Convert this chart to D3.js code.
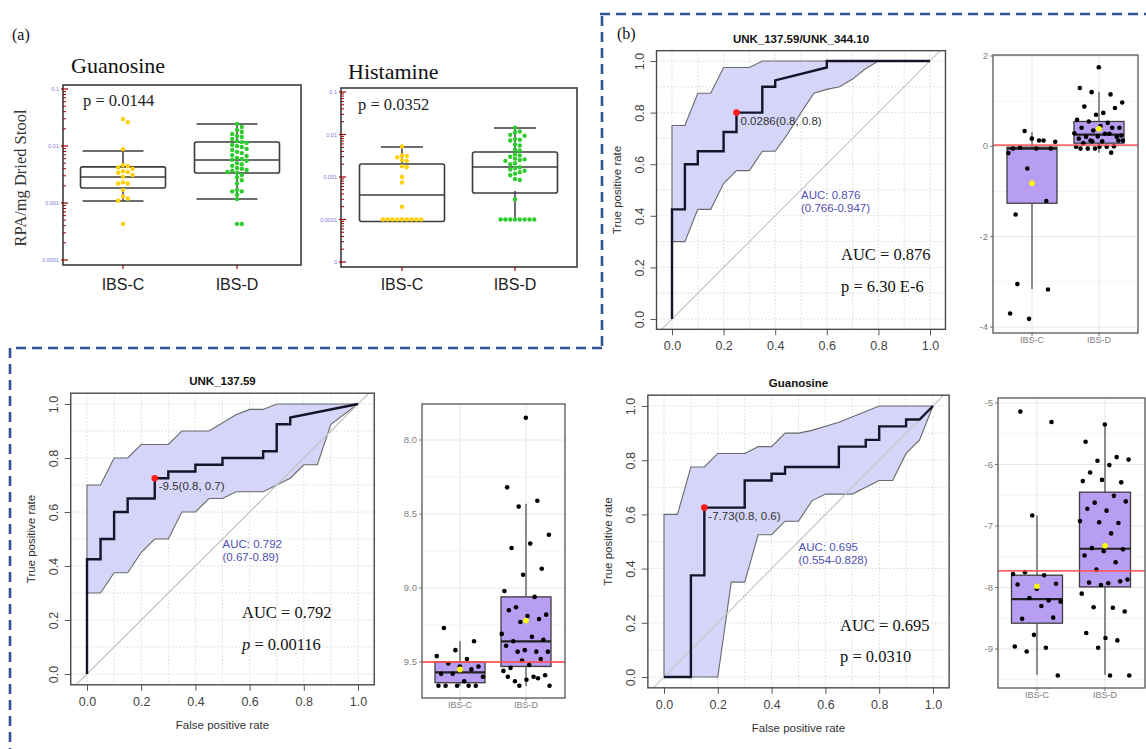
<!DOCTYPE html>
<html>
<head>
<meta charset="utf-8">
<script src="https://cdn.jsdelivr.net/npm/d3@7"></script>
<style>
  body { margin: 0; background: #fff; }
</style>
</head>
<body>
<div id="chart"></div>
<script>
// ---------------- data ----------------
var groups = ["IBS-C", "IBS-D"];

// panel (a): RPA/mg dried stool (log axis)
var guanoC = [0.0298, 0.0262, 0.0088, 0.0046, 0.0044, 0.0042, 0.0040, 0.0036, 0.0035, 0.0034, 0.0031, 0.0029,
  0.0023, 0.0022, 0.0022, 0.0017, 0.0013, 0.0012, 0.0011, 0.00043];
var guanoD = [0.0243, 0.0216, 0.0191, 0.0176, 0.0162, 0.0150, 0.0144, 0.0133, 0.0122, 0.0117, 0.0113, 0.0104,
  0.0100, 0.0096, 0.0089, 0.0085, 0.0079, 0.0075, 0.0069, 0.0067, 0.0062, 0.0059, 0.0057, 0.0055, 0.0050,
  0.0048, 0.0045, 0.0041, 0.0040, 0.0038, 0.0037, 0.0035, 0.0034, 0.0031, 0.0028, 0.0025, 0.0022, 0.0017,
  0.0016, 0.0016, 0.0014, 0.00117, 0.00043, 0.00043];
// [low whisker, q1, median, q3, high whisker]
var guanoBoxC = [0.00108, 0.00183, 0.00286, 0.0043, 0.00817];
var guanoBoxD = [0.00117, 0.00336, 0.00568, 0.01175, 0.0243];

var histC = [0.0052, 0.0032, 0.0031, 0.0029, 0.0025, 0.0024, 0.0018, 0.0017, 0.0010, 0.00074, 0.00020,
  0.0001, 0.0001, 0.0001, 0.0001, 0.0001, 0.0001, 0.0001, 0.0001, 0.0001];
var histD = [0.0145, 0.0118, 0.0112, 0.0098, 0.0094, 0.0078, 0.0075, 0.0072, 0.0058, 0.0055, 0.0044, 0.0042,
  0.0034, 0.0032, 0.0030, 0.0027, 0.0026, 0.0025, 0.0024, 0.0021, 0.0020, 0.0017, 0.0016, 0.0015, 0.0014,
  0.0013, 0.0012, 0.0011, 0.00090, 0.00085, 0.0003,
  0.0001, 0.0001, 0.0001, 0.0001, 0.0001, 0.0001, 0.0001, 0.0001];
var histBoxC = [0.0001, 0.0001, 0.000377, 0.00202, 0.00508];
var histBoxD = [0.0001, 0.000469, 0.00172, 0.00387, 0.01422];

var guanoTicks = [0.0001, 0.001, 0.01, 0.1];
var guanoTickLabels = ["0.0001", "0.001", "0.01", "0.1"];
var histTicks = [0.00001, 0.0001, 0.001, 0.01, 0.1];
var histTickLabels = ["0", "0.0001", "0.001", "0.01", "0.1"];

// panel (b): ROC curves, [false positive rate, true positive rate]
var rocRatioCurve = [[0, 0], [0, 0.425], [0.05, 0.425], [0.05, 0.6], [0.1, 0.6], [0.1, 0.65], [0.2, 0.65],
  [0.2, 0.725], [0.25, 0.725], [0.25, 0.8], [0.35, 0.8], [0.35, 0.9], [0.4, 0.9], [0.4, 0.925], [0.6, 0.975],
  [0.6, 1], [1, 1]];
var rocRatioUpper = [[0, 0.75], [0.05, 0.75], [0.1, 0.875], [0.15, 0.875], [0.2, 0.975], [0.3, 0.975],
  [0.35, 1], [1, 1]];
var rocRatioLower = [[0, 0.3], [0.05, 0.3], [0.1, 0.425], [0.15, 0.425], [0.2, 0.525], [0.25, 0.575],
  [0.3, 0.575], [0.35, 0.65], [0.4, 0.65], [0.45, 0.72], [0.5, 0.8], [0.55, 0.875], [0.6, 0.89], [0.65, 0.9],
  [0.7, 0.93], [0.75, 0.97], [0.8, 1], [1, 1]];
var rocRatioBest = [0.25, 0.8];

var rocUnkCurve = [[0, 0], [0, 0.425], [0.05, 0.425], [0.05, 0.5], [0.1, 0.5], [0.1, 0.6], [0.15, 0.6],
  [0.15, 0.65], [0.25, 0.65], [0.25, 0.725], [0.3, 0.725], [0.3, 0.75], [0.4, 0.75], [0.4, 0.775], [0.5, 0.775],
  [0.5, 0.8], [0.65, 0.8], [0.65, 0.825], [0.7, 0.825], [0.7, 0.925], [0.75, 0.925], [0.75, 0.95], [1, 1]];
var rocUnkUpper = [[0, 0.7], [0.05, 0.7], [0.1, 0.8], [0.15, 0.8], [0.2, 0.85], [0.3, 0.85], [0.35, 0.9],
  [0.45, 0.9], [0.55, 0.96], [0.6, 0.98], [0.65, 0.98], [0.7, 1], [1, 1]];
var rocUnkLower = [[0, 0.3], [0.05, 0.3], [0.1, 0.375], [0.15, 0.375], [0.2, 0.45], [0.25, 0.5], [0.3, 0.5],
  [0.35, 0.6], [0.4, 0.6], [0.45, 0.65], [0.5, 0.65], [0.55, 0.675], [0.65, 0.675], [0.75, 0.725], [0.8, 0.775],
  [0.85, 0.775], [0.9, 0.925], [1, 1]];
var rocUnkBest = [0.25, 0.725];

var rocGuaCurve = [[0, 0], [0.1, 0], [0.1, 0.375], [0.15, 0.375], [0.15, 0.625], [0.3, 0.625], [0.3, 0.725],
  [0.4, 0.725], [0.4, 0.75], [0.45, 0.75], [0.45, 0.775], [0.65, 0.775], [0.65, 0.85], [0.75, 0.85],
  [0.75, 0.875], [0.8, 0.875], [0.8, 0.925], [0.9, 0.925], [0.9, 0.95], [0.95, 0.95], [1, 1]];
var rocGuaUpper = [[0, 0.6], [0.05, 0.6], [0.1, 0.775], [0.15, 0.775], [0.2, 0.825], [0.3, 0.825], [0.35, 0.85],
  [0.4, 0.85], [0.45, 0.9], [0.5, 0.9], [0.55, 0.91], [0.65, 0.94], [0.8, 1], [1, 1]];
var rocGuaLower = [[0, 0], [0.2, 0], [0.25, 0.35], [0.3, 0.35], [0.35, 0.525], [0.4, 0.525], [0.45, 0.575],
  [0.5, 0.575], [0.55, 0.65], [0.6, 0.675], [0.7, 0.675], [0.75, 0.7], [0.8, 0.725], [0.85, 0.725],
  [0.9, 0.825], [0.95, 0.875], [1, 1]];
var rocGuaBest = [0.15, 0.625];

// panel (b): box plots with jittered points
var ratioC = [-1.51, -1.21, -0.49, -0.15, 0.13, -0.03, -0.05, 0.17, -0.05, 0.13, 0.34, 0.10, -0.05,
  -3.05, -3.17, -3.82, -3.70];
var ratioD = [1.75, 1.29, 1.15, 1.20, 0.97, 0.74, 0.88, 0.85, 0.70, 0.59, 0.52, 0.55, 0.41, 0.45, 0.41, 0.41,
  0.35, 0.29, 0.28, 0.21, 0.21, 0.22, 0.17, 0.28, 0.13, 0.24, 0.11, 0.07, 0.0, -0.05, -0.01, -0.01, -0.05, 0.13,
  -0.01, -0.05, -0.14, 0.11, 0.13];
var ratioBoxC = [-3.16, -1.26, -0.05, -0.02, 0.31];
var ratioBoxD = [-0.14, 0.07, 0.26, 0.55, 1.2];
var ratioMeans = [-0.82, 0.39];
var ratioCut = 0.0286;

var unkC = [9.27, 9.36, 9.42, 9.46, 9.48, 9.51, 9.53, 9.53, 9.58, 9.55, 9.58, 9.6, 9.63, 9.66, 9.66, 9.66,
  9.66, 9.66];
var unkD = [7.85, 8.32, 8.41, 8.45, 8.64, 8.70, 8.73, 8.87, 8.91, 9.02, 9.06, 9.13, 9.18, 9.19, 9.15, 9.21,
  9.23, 9.31, 9.33, 9.36, 9.35, 9.42, 9.39, 9.43, 9.43, 9.43, 9.52, 9.54, 9.48, 9.49, 9.56, 9.6, 9.63, 9.59,
  9.62, 9.6, 9.61, 9.66, 9.66];
var unkBoxC = [9.36, 9.5, 9.57, 9.64, 9.66];
var unkBoxD = [8.43, 9.06, 9.36, 9.53, 9.66];
var unkMeans = [9.55, 9.22];
var unkCut = 9.5;

var guaC = [-5.14, -5.31, -6.83, -7.78, -7.80, -7.75, -7.94, -8.02, -7.95, -8.21, -8.17, -8.23, -8.30, -8.51,
  -8.49, -8.77, -8.96, -8.98, -9.04, -9.43];
var guaD = [-5.35, -5.63, -5.88, -5.94, -5.92, -6.01, -6.13, -6.29, -6.25, -6.27, -6.51, -6.62, -6.60, -6.75,
  -6.72, -6.95, -6.94, -6.92, -7.12, -7.36, -7.38, -7.41, -7.48, -7.59, -7.71, -7.87, -7.93, -7.92, -7.90,
  -7.96, -8.10, -8.33, -8.32, -8.39, -8.82, -8.74, -8.86, -8.98, -9.43, -9.43];
var guaBoxC = [-9.42, -8.58, -8.19, -7.80, -6.83];
var guaBoxD = [-9.42, -7.99, -7.37, -6.45, -5.35];
var guaMeans = [-7.98, -7.32];
var guaCut = -7.73;

// ---------------- setup ----------------
var width = 1146,
    height = 749;
var serif = "'Liberation Serif', 'Times New Roman', serif";
var sans = "'Liberation Sans', Arial, sans-serif";

var svg = d3.select("#chart")
    .append("svg")
    .attr("width", width)
    .attr("height", height);

svg.append("rect").attr("width", width).attr("height", height).attr("fill", "#fff");

// simple beeswarm: push points sideways until they stop overlapping
function swarm(values, y, cx, r) {
    var placed = [];
    values.map(function (v) { return { v: v, y: y(v) }; })
        .sort(function (a, b) { return a.y - b.y; })
        .forEach(function (p) {
            for (var k = 0; k < 60; k++) {
                var off = (k % 2 ? 1 : -1) * Math.ceil(k / 2) * (2 * r + 0.4);
                var ok = placed.every(function (q) {
                    return Math.hypot(q.x - (cx + off), q.y - p.y) >= 2 * r - 0.2;
                });
                if (ok) { p.x = cx + off; break; }
            }
            placed.push(p);
        });
    return placed;
}

// ---------------- panel (a) ----------------
function drawSwarmPanel(cfg) {
    var g = svg.append("g");
    var fr = cfg.frame;
    var y = d3.scaleLog().domain(cfg.yDomain).range(cfg.yRange);
    var x = d3.scalePoint().domain(groups).range(cfg.xRange);

    g.append("rect")
        .attr("x", fr[0]).attr("y", fr[1])
        .attr("width", fr[2] - fr[0]).attr("height", fr[3] - fr[1])
        .attr("fill", "none").attr("stroke", "#3c3c3c").attr("stroke-width", 1.6);

    // log minor ticks on the inside of the axis
    var e0 = Math.round(Math.log10(cfg.yDomain[0])),
        e1 = Math.round(Math.log10(cfg.yDomain[1]));
    var minor = [];
    for (var e = e0; e < e1; e++) {
        for (var m = 2; m < 10; m++) minor.push(m * Math.pow(10, e));
    }
    g.selectAll(".minor").data(minor).enter().append("line")
        .attr("x1", fr[0]).attr("x2", fr[0] + 3)
        .attr("y1", function (d) { return y(d); }).attr("y2", function (d) { return y(d); })
        .attr("stroke", "#a00000").attr("stroke-width", 1);
    g.selectAll(".major").data(cfg.ticks).enter().append("line")
        .attr("x1", fr[0] - 2).attr("x2", fr[0] + 5)
        .attr("y1", function (d) { return y(d); }).attr("y2", function (d) { return y(d); })
        .attr("stroke", "#a00000").attr("stroke-width", 1.2);
    g.selectAll(".tlab").data(cfg.ticks).enter().append("text")
        .attr("x", fr[0] - 4).attr("y", function (d) { return y(d) + 2; })
        .attr("text-anchor", "end").attr("font-family", sans).attr("font-size", 5.5)
        .attr("fill", "#7b7bd9")
        .text(function (d, i) { return cfg.tickLabels[i]; });

    g.selectAll(".ctick").data(groups).enter().append("line")
        .attr("x1", function (d) { return x(d); }).attr("x2", function (d) { return x(d); })
        .attr("y1", fr[3]).attr("y2", fr[3] + 4)
        .attr("stroke", "#a00000").attr("stroke-width", 1.2);
    g.selectAll(".clab").data(groups).enter().append("text")
        .attr("x", function (d) { return x(d); }).attr("y", 290)
        .attr("text-anchor", "middle").attr("font-family", sans).attr("font-size", 16)
        .attr("fill", "#222")
        .text(function (d) { return d; });

    // boxes
    [cfg.boxC, cfg.boxD].forEach(function (b, i) {
        var cx = x(groups[i]);
        var bw = cfg.boxWidth;
        var capL = cx + cfg.capShift - cfg.capWidth / 2;
        var stroke = "#3c3c3c";
        g.append("line").attr("x1", cx).attr("x2", cx).attr("y1", y(b[3])).attr("y2", y(b[4]))
            .attr("stroke", stroke).attr("stroke-width", 1.5);
        g.append("line").attr("x1", cx).attr("x2", cx).attr("y1", y(b[1])).attr("y2", y(b[0]))
            .attr("stroke", stroke).attr("stroke-width", 1.5);
        var caps = cfg.lowCap ? [b[0], b[4]] : [b[4]];
        caps.forEach(function (v) {
            g.append("line").attr("x1", capL).attr("x2", capL + cfg.capWidth)
                .attr("y1", y(v)).attr("y2", y(v))
                .attr("stroke", stroke).attr("stroke-width", 1.5);
        });
        g.append("rect")
            .attr("x", cx - bw / 2).attr("y", y(b[3]))
            .attr("width", bw).attr("height", y(b[1]) - y(b[3]) + cfg.boxPad)
            .attr("rx", 2)
            .attr("fill", "none").attr("stroke", stroke).attr("stroke-width", 1.6);
        g.append("line").attr("x1", cx - bw / 2).attr("x2", cx + bw / 2)
            .attr("y1", y(b[2])).attr("y2", y(b[2]))
            .attr("stroke", stroke).attr("stroke-width", 1.5);
    });

    // swarm points
    [cfg.dataC, cfg.dataD].forEach(function (vals, i) {
        var pts = swarm(vals, y, x(groups[i]), 2.2);
        g.selectAll(".pt" + i).data(pts).enter().append("circle")
            .attr("cx", function (d) { return d.x; })
            .attr("cy", function (d) { return d.y; })
            .attr("r", 2.2)
            .attr("fill", cfg.colors[i]);
    });

    g.append("text").attr("x", cfg.titlePos[0]).attr("y", cfg.titlePos[1])
        .attr("font-family", serif).attr("font-size", 22).attr("fill", "#111")
        .text(cfg.title);
    g.append("text").attr("x", cfg.pPos[0]).attr("y", cfg.pPos[1])
        .attr("font-family", serif).attr("font-size", 16.5).attr("fill", "#222")
        .text(cfg.pText);
}

drawSwarmPanel({
    frame: [63, 85, 301, 265],
    yDomain: [0.0001, 0.1], yRange: [260, 89],
    xRange: [123, 237],
    ticks: guanoTicks, tickLabels: guanoTickLabels,
    boxC: guanoBoxC, boxD: guanoBoxD, dataC: guanoC, dataD: guanoD,
    boxWidth: 85, capWidth: 61, capShift: -10, lowCap: true, boxPad: 0,
    colors: ["#ffd000", "#2ecc2e"],
    title: "Guanosine", titlePos: [71, 73],
    pText: "p = 0.0144", pPos: [83, 106]
});

drawSwarmPanel({
    frame: [341, 88, 577, 267],
    yDomain: [0.00001, 0.1], yRange: [262, 92],
    xRange: [402, 515],
    ticks: histTicks, tickLabels: histTickLabels,
    boxC: histBoxC, boxD: histBoxD, dataC: histC, dataD: histD,
    boxWidth: 85, capWidth: 42, capShift: 0, lowCap: false, boxPad: 2,
    colors: ["#ffd000", "#2ecc2e"],
    title: "Histamine", titlePos: [348, 79],
    pText: "p = 0.0352", pPos: [358, 110]
});

svg.append("text").attr("x", 12).attr("y", 40)
    .attr("font-family", serif).attr("font-size", 16).attr("fill", "#111").text("(a)");
svg.append("text")
    .attr("transform", "translate(26,178) rotate(-90)")
    .attr("text-anchor", "middle")
    .attr("font-family", serif).attr("font-size", 16.5).attr("fill", "#333")
    .text("RPA/mg Dried Stool");

// ---------------- ROC plots ----------------
function drawRoc(cfg) {
    var g = svg.append("g");
    var x = d3.scaleLinear().domain([0, 1]).range(cfg.xr);
    var y = d3.scaleLinear().domain([0, 1]).range(cfg.yr);
    var fx0 = x(-0.06), fx1 = x(1.06), fy0 = y(1.04), fy1 = y(-0.04);
    var grid = d3.range(0, 11).map(function (i) { return i / 10; });

    g.selectAll(".gx").data(grid).enter().append("line")
        .attr("x1", function (d) { return x(d); }).attr("x2", function (d) { return x(d); })
        .attr("y1", fy0).attr("y2", fy1)
        .attr("stroke", "#d8d8d8").attr("stroke-dasharray", "1.5,2");
    g.selectAll(".gy").data(grid).enter().append("line")
        .attr("y1", function (d) { return y(d); }).attr("y2", function (d) { return y(d); })
        .attr("x1", fx0).attr("x2", fx1)
        .attr("stroke", "#d8d8d8").attr("stroke-dasharray", "1.5,2");

    var line = d3.line()
        .x(function (d) { return x(d[0]); })
        .y(function (d) { return y(d[1]); });

    var band = cfg.upper.concat(cfg.lower.slice().reverse());
    g.append("path").attr("d", line(band) + "Z")
        .attr("fill", "#d5d5fa").attr("stroke", "#6a6a6a").attr("stroke-width", 1.1);

    g.append("line")
        .attr("x1", x(-0.04)).attr("y1", y(-0.04)).attr("x2", x(1.04)).attr("y2", y(1.04))
        .attr("stroke", "#c4c4c4").attr("stroke-width", 1.2);

    g.append("path").attr("d", line(cfg.curve))
        .attr("fill", "none").attr("stroke", "#141428").attr("stroke-width", 2.4);

    g.append("circle").attr("cx", x(cfg.best[0])).attr("cy", y(cfg.best[1])).attr("r", 3.3)
        .attr("fill", "#ff1a1a");
    g.append("text").attr("x", x(cfg.best[0]) + 4).attr("y", y(cfg.best[1]) + 12)
        .attr("font-family", sans).attr("font-size", 11.5).attr("fill", "#333")
        .text(cfg.thrLabel);

    g.append("text").attr("x", x(0.5)).attr("y", y(0.48) + 4)
        .attr("font-family", sans).attr("font-size", 11.5).attr("fill", "#5050b4")
        .text(cfg.aucLabel);
    g.append("text").attr("x", x(0.5)).attr("y", y(0.48) + 17)
        .attr("font-family", sans).attr("font-size", 11.5).attr("fill", "#5050b4")
        .text(cfg.ciLabel);

    // overlaid statistics text
    g.append("text").attr("x", cfg.statX).attr("y", cfg.statY[0])
        .attr("font-family", serif).attr("font-size", 16.5).attr("fill", "#111")
        .text(cfg.stats[0]);
    var s2 = g.append("text").attr("x", cfg.statX).attr("y", cfg.statY[1])
        .attr("font-family", serif).attr("font-size", 16.5).attr("fill", "#111");
    if (cfg.italicP) {
        s2.append("tspan").attr("font-style", "italic").text("p");
        s2.append("tspan").text(cfg.stats[1].slice(1));
    } else {
        s2.text(cfg.stats[1]);
    }

    g.append("rect").attr("x", fx0).attr("y", fy0)
        .attr("width", fx1 - fx0).attr("height", fy1 - fy0)
        .attr("fill", "none").attr("stroke", "#4a4a4a").attr("stroke-width", 1.4);

    var ticks = [0, 0.2, 0.4, 0.6, 0.8, 1.0];
    var xa = g.append("g").attr("transform", "translate(0," + fy1 + ")")
        .call(d3.axisBottom(x).tickValues(ticks).tickFormat(d3.format(".1f"))
            .tickSize(6).tickSizeOuter(0).tickPadding(6));
    var ya = g.append("g").attr("transform", "translate(" + fx0 + ",0)")
        .call(d3.axisLeft(y).tickValues(ticks).tickFormat(d3.format(".1f"))
            .tickSize(6).tickSizeOuter(0));
    [xa, ya].forEach(function (a) {
        a.select(".domain").remove();
        a.selectAll("line").attr("stroke", "#555");
        a.selectAll("text").attr("font-family", sans).attr("font-size", 12.5).attr("fill", "#444");
    });
    ya.selectAll("text")
        .attr("x", 0).attr("dy", null).attr("y", 0)
        .attr("text-anchor", "middle")
        .attr("transform", "translate(-13,0) rotate(-90)");

    g.append("text")
        .attr("transform", "translate(" + (fx0 - 36) + "," + ((fy0 + fy1) / 2) + ") rotate(-90)")
        .attr("text-anchor", "middle").attr("font-family", sans).attr("font-size", 11.5).attr("fill", "#333")
        .text("True positive rate");
    if (cfg.xTitle) {
        g.append("text").attr("x", (fx0 + fx1) / 2).attr("y", fy1 + 44)
            .attr("text-anchor", "middle").attr("font-family", sans).attr("font-size", 11.5).attr("fill", "#333")
            .text("False positive rate");
    }
    g.append("text").attr("x", (fx0 + fx1) / 2).attr("y", cfg.titleY)
        .attr("text-anchor", "middle").attr("font-family", sans).attr("font-weight", "bold")
        .attr("font-size", 11.5).attr("fill", "#111")
        .text(cfg.title);
}

drawRoc({
    xr: [672, 930], yr: [319, 61],
    curve: rocRatioCurve, upper: rocRatioUpper, lower: rocRatioLower, best: rocRatioBest,
    title: "UNK_137.59/UNK_344.10", titleY: 43,
    thrLabel: "0.0286(0.8, 0.8)", aucLabel: "AUC: 0.876", ciLabel: "(0.766-0.947)",
    stats: ["AUC = 0.876", "p = 6.30 E-6"], statX: 841, statY: [260, 292],
    italicP: false, xTitle: false
});
drawRoc({
    xr: [87, 358], yr: [674, 404],
    curve: rocUnkCurve, upper: rocUnkUpper, lower: rocUnkLower, best: rocUnkBest,
    title: "UNK_137.59", titleY: 385,
    thrLabel: "-9.5(0.8, 0.7)", aucLabel: "AUC: 0.792", ciLabel: "(0.67-0.89)",
    stats: ["AUC = 0.792", "p = 0.00116"], statX: 242, statY: [618, 650],
    italicP: true, xTitle: true
});
drawRoc({
    xr: [664, 933], yr: [677, 406],
    curve: rocGuaCurve, upper: rocGuaUpper, lower: rocGuaLower, best: rocGuaBest,
    title: "Guanosine", titleY: 387,
    thrLabel: "-7.73(0.8, 0.6)", aucLabel: "AUC: 0.695", ciLabel: "(0.554-0.828)",
    stats: ["AUC = 0.695", "p = 0.0310"], statX: 840, statY: [631, 662],
    italicP: false, xTitle: true
});

svg.append("text").attr("x", 617).attr("y", 39)
    .attr("font-family", serif).attr("font-size", 16).attr("fill", "#111").text("(b)");

// ---------------- ggplot-style box plots ----------------
function jit(i) {
    return ((i * 0.618034 + 0.17) % 1) - 0.5;
}

function drawGgBox(cfg) {
    var g = svg.append("g");
    var fr = cfg.frame;
    var y = d3.scaleLinear().domain(cfg.domain).range(cfg.range);
    var x = d3.scalePoint().domain(groups).range(cfg.cats);
    var step = cfg.cats[1] - cfg.cats[0];

    g.append("rect").attr("x", fr[0]).attr("y", fr[1])
        .attr("width", fr[2] - fr[0]).attr("height", fr[3] - fr[1]).attr("fill", "#fff");
    g.selectAll(".mn").data(cfg.minor).enter().append("line")
        .attr("x1", fr[0]).attr("x2", fr[2])
        .attr("y1", function (d) { return y(d); }).attr("y2", function (d) { return y(d); })
        .attr("stroke", "#f2f2f2").attr("stroke-width", 0.8);
    g.selectAll(".mj").data(cfg.ticks).enter().append("line")
        .attr("x1", fr[0]).attr("x2", fr[2])
        .attr("y1", function (d) { return y(d); }).attr("y2", function (d) { return y(d); })
        .attr("stroke", "#e6e6e6").attr("stroke-width", 1);
    g.selectAll(".vx").data(groups).enter().append("line")
        .attr("x1", function (d) { return x(d); }).attr("x2", function (d) { return x(d); })
        .attr("y1", fr[1]).attr("y2", fr[3])
        .attr("stroke", "#e6e6e6").attr("stroke-width", 1);

    [cfg.boxC, cfg.boxD].forEach(function (b, i) {
        var cx = x(groups[i]);
        var bw = cfg.boxWidth;
        g.append("line").attr("x1", cx).attr("x2", cx).attr("y1", y(b[0])).attr("y2", y(b[4]))
            .attr("stroke", "#555").attr("stroke-width", 1.3);
        var top = Math.min(y(b[1]), y(b[3])), bot = Math.max(y(b[1]), y(b[3]));
        g.append("rect").attr("x", cx - bw / 2).attr("y", top)
            .attr("width", bw).attr("height", bot - top)
            .attr("fill", "#b89ef2").attr("stroke", "#3d3d3d").attr("stroke-width", 1.3);
        g.append("line").attr("x1", cx - bw / 2).attr("x2", cx + bw / 2)
            .attr("y1", y(b[2])).attr("y2", y(b[2]))
            .attr("stroke", "#222").attr("stroke-width", 2.2);
    });

    [cfg.dataC, cfg.dataD].forEach(function (vals, gi) {
        var cx = x(groups[gi]);
        g.selectAll(".p" + gi).data(vals).enter().append("circle")
            .attr("cx", function (d, i) { return cx + jit(i + gi * 7) * 2 * 0.37 * step; })
            .attr("cy", function (d) { return y(d); })
            .attr("r", 2.3)
            .attr("fill", "#000");
    });

    g.selectAll(".mean").data(cfg.means).enter().append("circle")
        .attr("cx", function (d, i) { return x(groups[i]); })
        .attr("cy", function (d) { return y(d); })
        .attr("r", 2.8)
        .attr("fill", "#ffff00");

    g.append("line").attr("x1", fr[0]).attr("x2", fr[2])
        .attr("y1", y(cfg.cut)).attr("y2", y(cfg.cut))
        .attr("stroke", "#ff4d4d").attr("stroke-opacity", 0.85).attr("stroke-width", 1.8);

    g.append("rect").attr("x", fr[0]).attr("y", fr[1])
        .attr("width", fr[2] - fr[0]).attr("height", fr[3] - fr[1])
        .attr("fill", "none").attr("stroke", "#555").attr("stroke-width", 1.3);

    g.selectAll(".yt").data(cfg.ticks).enter().append("line")
        .attr("x1", fr[0] - 3).attr("x2", fr[0])
        .attr("y1", function (d) { return y(d); }).attr("y2", function (d) { return y(d); })
        .attr("stroke", "#777");
    g.selectAll(".yl").data(cfg.ticks).enter().append("text")
        .attr("x", fr[0] - 5).attr("y", function (d) { return y(d) + 3; })
        .attr("text-anchor", "end").attr("font-family", sans).attr("font-size", 9.5).attr("fill", "#808080")
        .text(cfg.fmt);
    g.selectAll(".xt").data(groups).enter().append("line")
        .attr("x1", function (d) { return x(d); }).attr("x2", function (d) { return x(d); })
        .attr("y1", fr[3]).attr("y2", fr[3] + 3)
        .attr("stroke", "#777");
    g.selectAll(".xl").data(groups).enter().append("text")
        .attr("x", function (d) { return x(d); }).attr("y", fr[3] + 10)
        .attr("text-anchor", "middle").attr("font-family", sans).attr("font-size", 9).attr("fill", "#808080")
        .text(function (d) { return d; });
}

var plainFmt = function (d) { return String(d); };

drawGgBox({
    frame: [993, 55, 1138, 333], domain: [-4, 2], range: [327, 56], cats: [1032, 1099],
    ticks: [-4, -2, 0, 2], minor: [-3, -1, 1], fmt: plainFmt, boxWidth: 50,
    dataC: ratioC, dataD: ratioD, boxC: ratioBoxC, boxD: ratioBoxD, means: ratioMeans, cut: ratioCut
});
drawGgBox({
    frame: [422, 404, 565, 698], domain: [8.0, 9.5], range: [440, 662], cats: [460, 526],
    ticks: [8.0, 8.5, 9.0, 9.5], minor: [8.25, 8.75, 9.25], fmt: d3.format(".1f"), boxWidth: 50,
    dataC: unkC, dataD: unkD, boxC: unkBoxC, boxD: unkBoxD, means: unkMeans, cut: unkCut
});
drawGgBox({
    frame: [998, 398, 1145, 688], domain: [-5, -9], range: [403, 649], cats: [1037, 1105],
    ticks: [-5, -6, -7, -8, -9], minor: [-5.5, -6.5, -7.5, -8.5, -9.5], fmt: plainFmt, boxWidth: 51,
    dataC: guaC, dataD: guaD, boxC: guaBoxC, boxD: guaBoxD, means: guaMeans, cut: guaCut
});

// ---------------- dashed outline of panel (b) ----------------
var dash = svg.append("g")
    .attr("fill", "none")
    .attr("stroke", "#2f5496")
    .attr("stroke-width", 2.6)
    .attr("stroke-dasharray", "10,6");
dash.append("path").attr("d", "M600,14 H1146");
dash.append("path").attr("d", "M602,16 V352");
dash.append("path").attr("d", "M602,348 H10");
dash.append("path").attr("d", "M10,348 V749");
</script>
</body>
</html>
